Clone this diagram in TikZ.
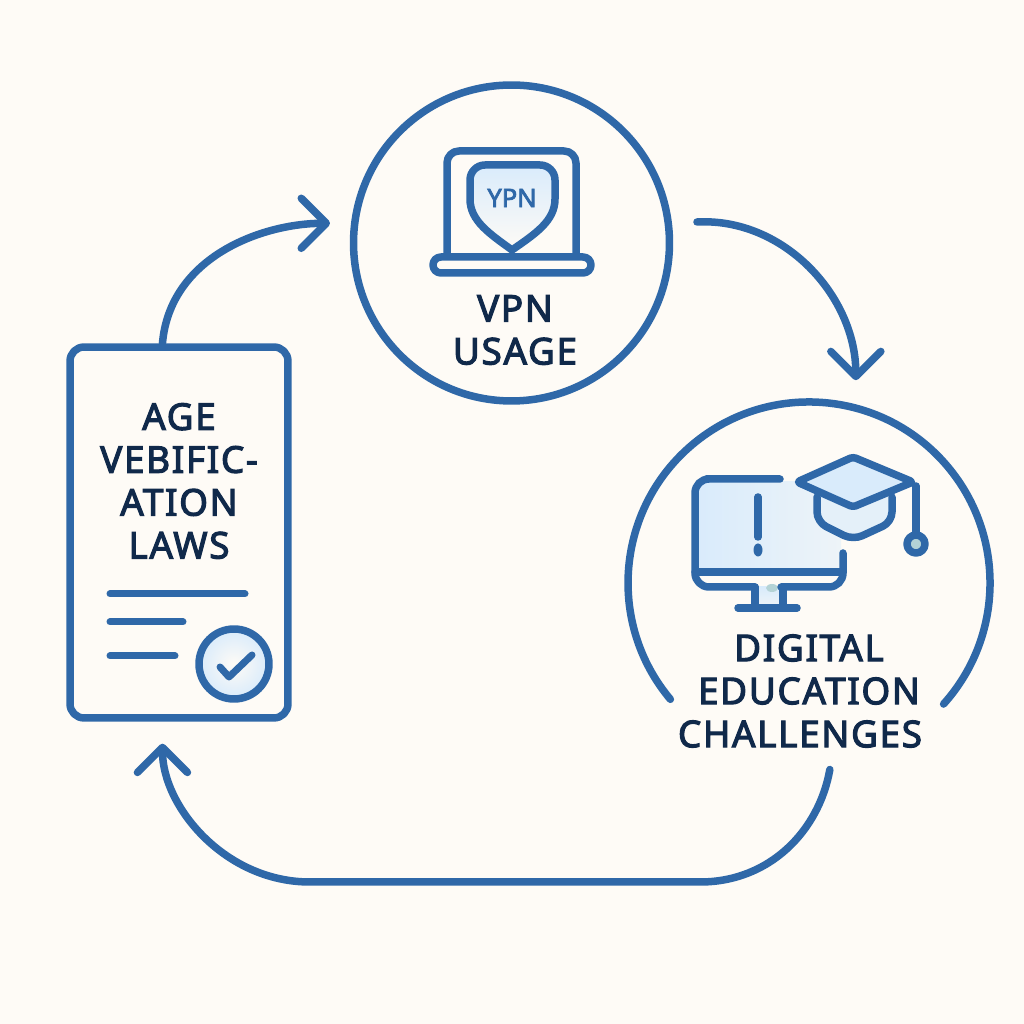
\documentclass[tikz,border=0pt]{standalone}
\usepackage{fontspec}
\usetikzlibrary{arrows.meta}
\newfontfamily\lblfont[LetterSpace=4.5,FakeBold=3]{Noto Sans}
\newfontfamily\vpnfont[FakeBold=3]{Noto Sans}
\definecolor{bgcol}{HTML}{FEFBF6}
\definecolor{linecol}{HTML}{2F68A8}
\definecolor{txtcol}{HTML}{10294A}
\definecolor{lightcol}{HTML}{D9EBFB}
\definecolor{tealcol}{HTML}{B4D3D6}
\tikzset{
    outline/.style={draw=linecol, line width=0.15cm, line cap=round, line join=round},
    conn/.style={outline, -{Straight Barb[round,length=0.5cm,width=1cm]}},
    thinline/.style={draw=linecol, line width=0.14cm, line cap=round, line join=round},
    lbl/.style={text=txtcol, align=center, font=\lblfont\fontsize{21}{24.4}\selectfont, inner sep=0pt}
}

\begin{document}
\begin{tikzpicture}[x=0.02cm,y=0.02cm]
    \fill[bgcol] (0,0) rectangle (1024,1024);
    \useasboundingbox (0,0) rectangle (1024,1024);

    \node[outline, circle, minimum size=6.32cm, inner sep=0pt] at (511.5,781) (vpn) {};
    \node[circle, minimum size=7.24cm, inner sep=0pt, outer sep=0pt] at (809,441) (edu) {};
    \node[outline, rectangle, rounded corners=0.28cm, minimum width=4.36cm, minimum height=7.42cm] at (179,491.5) (doc) {};

    % edu ring is open at the bottom
    \draw[outline] (edu.220) arc[start angle=220, end angle=-42, radius=181];

    \node[lbl] at (179,543) (doclbl) {AGE\\VEBIFIC-\\ATION\\LAWS};
    \node[lbl] at (515,694) (vpnlbl) {VPN\\USAGE};
    \node[lbl] at (809,376) (edulbla) {DIGITAL};
    \node[lbl] at (809,333) (edulblb) {EDUCATION};
    \node[lbl] at (800,290) (edulblc) {CHALLENGES};

    \coordinate (ba) at (700,142);
    \coordinate (bb) at (310,142);
    \draw[conn, shorten >=0.42cm] (doc.95) to[out=85,in=180] (vpn.173);
    \draw[conn, shorten <=0.5cm, shorten >=0.56cm] (vpn.7) to[out=3,in=90,looseness=1.1] (edu.75);
    \draw[conn, shorten <=0.14cm, shorten >=0.44cm] (edu.-83) to[out=-100,in=0] (ba) -- (bb) to[out=180,in=-90] (doc.-95);

    % laptop
    \draw[outline] (447,771) [rounded corners=0.24cm] -- (447,873) -- (576,873) -- (576,771);
    \draw[outline] (441,767) -- (583,767) arc[start angle=90, end angle=-90, radius=8] -- (441,751) arc[start angle=270, end angle=90, radius=8] -- cycle;
    \draw[outline, top color=lightcol, bottom color=bgcol] (470,825) [rounded corners=0.3cm] -- (470,859) -- (555,859) [sharp corners] -- (555,825) .. controls (555,803) and (535,790) .. (512,774) .. controls (490,790) and (470,803) .. (470,825) -- cycle;
    \node[text=linecol, font=\vpnfont\fontsize{14.5}{16}\selectfont, inner sep=0pt] at (512,826) (shieldtxt) {YPN};

    % monitor
    \shade[left color=lightcol, right color=lightcol!45!bgcol] (697,542) rectangle (841,454);
    \shade[top color=lightcol, bottom color=lightcol!40!bgcol] (757,437) rectangle (781,416);
    \fill[tealcol] (772,436) ellipse (6 and 4);
    \draw[outline] (780,545) -- (706,545) [rounded corners=0.28cm] -- (695,545) -- (695,437) -- (755,437);
    \draw[outline] (843,471) [rounded corners=0.28cm] -- (843,437) -- (781,437);
    \draw[outline] (695,452) -- (843,452);
    \draw[outline] (755,437) -- (755,416);
    \draw[outline] (783,437) -- (783,416);
    \draw[outline] (738,416) -- (797,416);
    \draw[outline] (758,527) -- (758,487);
    \fill[linecol] (758,474) ellipse (4.5 and 6.5);

    % mortarboard
    \fill[lightcol!70!bgcol] (817,527) -- (817,502) -- (853,484) -- (892,502) -- (892,527) -- cycle;
    \draw[outline, fill=lightcol, rounded corners=0.06cm] (853,567) -- (913,542) -- (853,517) -- (797,542) -- cycle;
    \draw[outline, rounded corners=0.2cm] (817,527) -- (817,502) -- (853,484) -- (892,502) -- (892,527);
    \draw[outline] (916,538) -- (916,489);
    \draw[outline, fill=tealcol] (916,480) circle (9);

    % doc lines and stamp
    \draw[thinline] (110,430) -- (245,430);
    \draw[thinline] (110,402) -- (183,402);
    \draw[thinline] (110,368) -- (175,368);
    \draw[outline, inner color=bgcol, outer color=lightcol] (234,360) circle (35);
    \draw[thinline] (220,357) -- (229,347) -- (252,369);
\end{tikzpicture}
\end{document}
